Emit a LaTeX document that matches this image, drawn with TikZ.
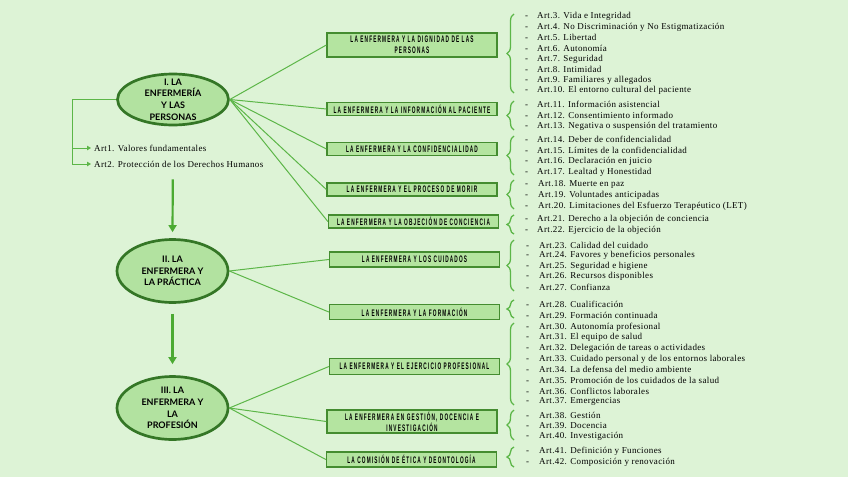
\documentclass[tikz,border=0pt]{standalone}
\usepackage{fontspec}
\setmainfont{Liberation Serif}
\newfontfamily\listfont[LetterSpace=4]{Liberation Serif}
\newfontfamily\ellfont{Lato}
\newfontfamily\boxfont[FakeStretch=0.5,LetterSpace=12]{Liberation Sans}
\usetikzlibrary{arrows.meta,decorations.pathreplacing,shapes.geometric}
\definecolor{bgc}{RGB}{221,243,214}
\definecolor{ellfill}{RGB}{178,226,160}
\definecolor{elldraw}{RGB}{52,118,38}
\definecolor{boxfill}{RGB}{180,228,160}
\definecolor{boxdraw}{RGB}{68,140,48}
\definecolor{linec}{RGB}{92,182,72}
\definecolor{arrc}{RGB}{75,170,50}
\begin{document}
\begin{tikzpicture}[x=1pt,y=-1pt,
  ell/.style={ellipse, draw=elldraw, line width=2.7pt, fill=ellfill, minimum width=111pt, inner sep=0pt},
  elltext/.style={align=center, inner sep=0pt, font=\ellfont\bfseries\fontsize{9}{11.7}\selectfont},
  topic/.style={rectangle, draw=boxdraw, line width=1.3pt, fill=boxfill, minimum width=170pt, minimum height=13pt, inner sep=1pt, align=center, font=\boxfont\bfseries\fontsize{9.5}{11}\selectfont},
  conn/.style={draw=linec, line width=1pt},
  item/.style={anchor=west, inner sep=0pt, font=\listfont\fontsize{9}{10}\selectfont},
  brc/.style={draw=linec, line width=1.3pt, decorate, decoration={brace, amplitude=7pt}},
  bigarr/.style={draw=arrc, line width=2.2pt, -{Triangle[length=7pt,width=8pt]}},
  smallarr/.style={draw=linec, line width=1pt, -{Triangle[length=4pt,width=4.5pt]}}
]
\fill[bgc] (0,0) rectangle (848,477);
\useasboundingbox (0,0) rectangle (848,477);

% ellipses
\node[ell, minimum height=51pt] (e1) at (173,99.5) {};
\node[elltext] (t1) at (e1) {I. LA\\ENFERMERÍA\\Y LAS\\PERSONAS};
\node[ell, minimum height=63pt] (e2) at (172.5,271) {};
\node[elltext] (t2) at (e2) {II. LA\\ENFERMERA Y\\LA PRÁCTICA};
\node[ell, minimum height=63pt] (e3) at (172.5,408) {};
\node[elltext] (t3) at (e3) {III. LA\\ENFERMERA Y\\LA\\PROFESIÓN};

\draw[bigarr, shorten <=53pt, shorten >=6pt] (e1.south) -- (e2.north);
\draw[bigarr, shorten <=10pt, shorten >=11pt] (e2.south) -- (e3.north);

% left items
\node[item, inner xsep=3pt] (a1) at (91,148) {Art1. Valores fundamentales};
\node[item, inner xsep=3pt] (a2) at (91,164) {Art2. Protección de los Derechos Humanos};
\coordinate (lbend) at (72,148);
\draw[smallarr] (e1.west) -| (lbend) -- (a1.west);
\draw[smallarr] (lbend) |- (a2.west);

% topic boxes
\node[topic, minimum height=24pt] (b1) at (412,45) {LA ENFERMERA Y LA DIGNIDAD DE LAS\\PERSONAS};
\node[topic] (b2) at (412,109) {LA ENFERMERA Y LA INFORMACIÓN AL PACIENTE};
\node[topic] (b3) at (412,149) {LA ENFERMERA Y LA CONFIDENCIALIDAD};
\node[topic] (b4) at (412,189.5) {LA ENFERMERA Y EL PROCESO DE MORIR};
\node[topic] (b5) at (413.5,221.5) {LA ENFERMERA Y LA OBJECIÓN DE CONCIENCIA};
\node[topic, minimum height=15pt] (b6) at (414.5,259.5) {LA ENFERMERA Y LOS CUIDADOS};
\node[topic, minimum height=15pt] (b7) at (414.5,312) {LA ENFERMERA Y LA FORMACIÓN};
\node[topic, minimum height=16pt] (b8) at (414.5,366.5) {LA ENFERMERA Y EL EJERCICIO PROFESIONAL};
\node[topic, minimum height=23pt] (b9) at (412,421.5) {LA ENFERMERA EN GESTIÓN, DOCENCIA E\\INVESTIGACIÓN};
\node[topic, minimum height=15pt] (b10) at (411.5,459.5) {LA COMISIÓN DE ÉTICA Y DEONTOLOGÍA};

\foreach \b in {b1,b2,b3,b4,b5} \draw[conn] (e1.east) -- (\b.west);
\foreach \b in {b6,b7} \draw[conn] (e2.east) -- (\b.west);
\foreach \b in {b8,b9,b10} \draw[conn] (e3.east) -- (\b.west);

% article lists
\foreach \t [count=\i] in {{Art.3. Vida e Integridad},{Art.4. No Discriminación y No Estigmatización},{Art.5. Libertad},{Art.6. Autonomía},{Art.7. Seguridad},{Art.8. Intimidad},{Art.9. Familiares y allegados},{Art.10. El entorno cultural del paciente}}
  \node[item] (g1-\i) at (525,{16.5+(\i-1)*10.6}) {\makebox[12pt][l]{-}\t};
\foreach \t [count=\i] in {{Art.11. Información asistencial},{Art.12. Consentimiento informado},{Art.13. Negativa o suspensión del tratamiento}}
  \node[item] (g2-\i) at (525,{104.5+(\i-1)*10.7}) {\makebox[12pt][l]{-}\t};
\foreach \t [count=\i] in {{Art.14. Deber de confidencialidad},{Art.15. Límites de la confidencialidad},{Art.16. Declaración en juicio},{Art.17. Lealtad y Honestidad}}
  \node[item] (g3-\i) at (525,{139.5+(\i-1)*10.8}) {\makebox[12pt][l]{-}\t};
\foreach \t [count=\i] in {{Art.18. Muerte en paz},{Art.19. Voluntades anticipadas},{Art.20. Limitaciones del Esfuerzo Terapéutico (LET)}}
  \node[item] (g4-\i) at (525,{184+(\i-1)*11}) {\makebox[13pt][l]{-}\t};
\foreach \t [count=\i] in {{Art.21. Derecho a la objeción de conciencia},{Art.22. Ejercicio de la objeción}}
  \node[item] (g5-\i) at (525,{219+(\i-1)*11}) {\makebox[12pt][l]{-}\t};
\foreach \t [count=\i] in {{Art.23. Calidad del cuidado},{Art.24. Favores y beneficios personales},{Art.25. Seguridad e higiene},{Art.26. Recursos disponibles},{Art.27. Confianza}}
  \node[item] (g6-\i) at (526,{245+(\i-1)*10.6}) {\makebox[13pt][l]{-}\t};
\foreach \t [count=\i] in {{Art.28. Cualificación},{Art.29. Formación continuada}}
  \node[item] (g7-\i) at (526,{304+(\i-1)*11}) {\makebox[13pt][l]{-}\t};
\foreach \t [count=\i] in {{Art.30. Autonomía profesional},{Art.31. El equipo de salud},{Art.32. Delegación de tareas o actividades},{Art.33. Cuidado personal y de los entornos laborales},{Art.34. La defensa del medio ambiente},{Art.35. Promoción de los cuidados de la salud},{Art.36. Conflictos laborales},{Art.37. Emergencias}}
  \node[item] (g8-\i) at (526,{327+(\i-1)*10.7}) {\makebox[13pt][l]{-}\t};
\foreach \t [count=\i] in {{Art.38. Gestión},{Art.39. Docencia},{Art.40. Investigación}}
  \node[item] (g9-\i) at (526,{415+(\i-1)*10.8}) {\makebox[13pt][l]{-}\t};
\foreach \t [count=\i] in {{Art.41. Definición y Funciones},{Art.42. Composición y renovación}}
  \node[item] (g10-\i) at (526,{451+(\i-1)*11}) {\makebox[13pt][l]{-}\t};

% braces
\draw[brc] (514,93) -- (514,14);
\draw[brc] (514,130) -- (514,101);
\draw[brc] (514,175) -- (514,136);
\draw[brc] (514,209) -- (514,180);
\draw[brc] (514,234) -- (514,215);
\draw[brc] (514,291) -- (514,240);
\draw[brc] (514,318) -- (514,300);
\draw[brc] (514,405) -- (514,323);
\draw[brc] (514,440) -- (514,410);
\draw[brc] (514,467) -- (514,447);
\end{tikzpicture}
\end{document}
